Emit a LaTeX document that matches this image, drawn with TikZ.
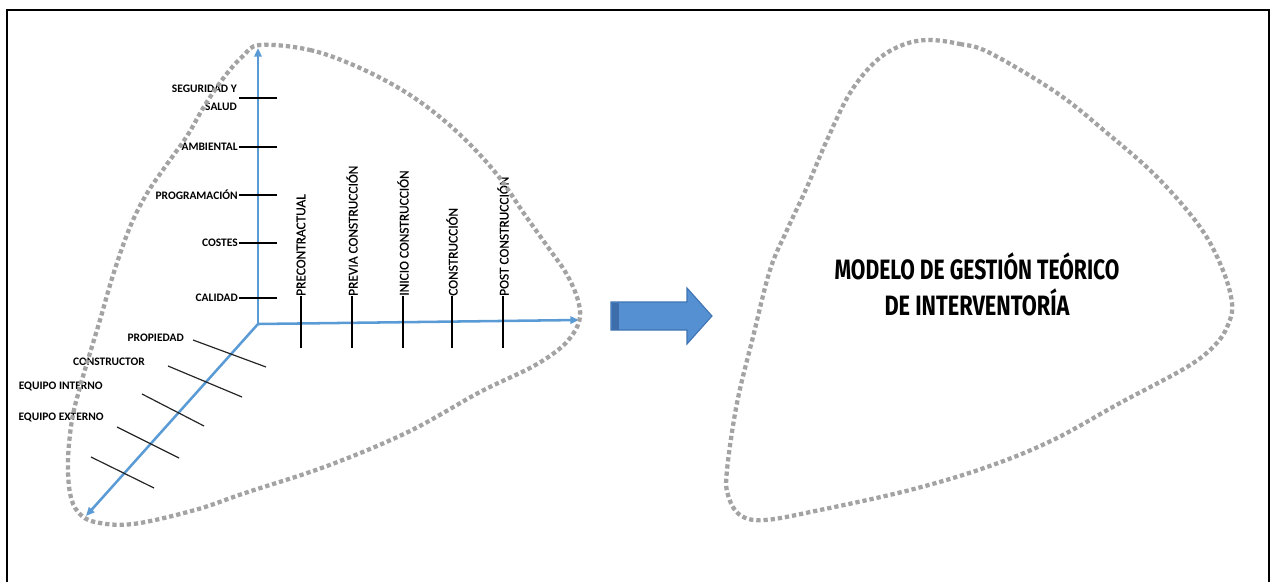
\documentclass[tikz,border=0pt]{standalone}
\usepackage{fontspec}
\setmainfont{Carlito}
\newfontfamily\titlefont{Fira Sans}
\newfontfamily\phasefont{Carlito}[FakeBold=0.6]
\usetikzlibrary{arrows.meta}
\definecolor{axisblue}{HTML}{5B9BD5}
\definecolor{blockblue}{HTML}{5590D2}
\definecolor{blockedge}{HTML}{3F73B1}
\definecolor{blockdark}{HTML}{3D6DAA}
\definecolor{dotgray}{HTML}{A3A3A3}
\begin{document}
\begin{tikzpicture}[x=0.75pt,y=-0.75pt,
  axis/.style={draw=axisblue,line width=1.9pt,-{Triangle[length=6.5pt,width=5.5pt]}},
  vtick/.style={draw=black,line width=1.5pt},
  dtick/.style={draw=black!85,line width=0.9pt},
  dimlabel/.style={font=\bfseries\fontsize{8.6}{13.5}\selectfont,inner sep=0pt,anchor=east,align=right},
  phaselabel/.style={font=\phasefont\fontsize{10}{12}\selectfont,inner sep=0pt,anchor=west,rotate=90},
  blob/.style={draw=dotgray,line width=3.2pt,dash pattern=on 3.2pt off 2.2pt},
  titletext/.style={font=\titlefont\bfseries\fontsize{21}{25}\selectfont,inner sep=0pt}]
\useasboundingbox (0,0) rectangle (1272,582);
\clip (0,0) rectangle (1272,582);

% outer frame
\draw[line width=2.2pt] (7,10) rectangle (1269,640);

% axes
\coordinate (origin) at (258,324);
\coordinate (ytip) at (258,48);
\coordinate (xtip) at (579,320);
\coordinate (dtip) at (86,516);
\draw[axis] (origin) -- (ytip);
\draw[axis] (origin) -- (xtip);
\draw[axis] (origin) -- (dtip);

% dimensions on the vertical axis
\foreach \name/\y in {seg/98,amb/147,prog/195,cost/243,cal/298}{
  \coordinate (\name a) at (239,\y);
  \coordinate (\name b) at (277,\y);
  \draw[vtick] (\name a) -- (\name b);
}
\node[dimlabel] (lseg) at (237,98) {SEGURIDAD Y\\SALUD};
\node[dimlabel] (lamb) at (238,147) {AMBIENTAL};
\node[dimlabel] (lprog) at (238,195) {PROGRAMACIÓN};
\node[dimlabel] (lcost) at (238,243) {COSTES};
\node[dimlabel] (lcal) at (238,298) {CALIDAD};

% phases on the horizontal axis
\foreach \name/\x/\txt in {pre/301/PRECONTRACTUAL,prev/352/PREVIA CONSTRUCCIÓN,ini/403/INICIO CONSTRUCCIÓN,con/452/CONSTRUCCIÓN,post/503/POST CONSTRUCCIÓN}{
  \node[phaselabel] (\name) at (\x,296) {\txt};
  \coordinate (\name b) at (\x,348);
  \draw[vtick] (\name.west) -- (\name b);
}

% actors on the diagonal axis
\coordinate (d1a) at (193,340); \coordinate (d1b) at (266,367);
\coordinate (d2a) at (168,366); \coordinate (d2b) at (242,397);
\coordinate (d3a) at (142,394); \coordinate (d3b) at (204,426);
\coordinate (d4a) at (117,427); \coordinate (d4b) at (179,458);
\coordinate (d5a) at (91,457);  \coordinate (d5b) at (154,488);
\foreach \i in {1,...,5}{\draw[dtick] (d\i a) -- (d\i b);}
\node[dimlabel] (lprop) at (184,338) {PROPIEDAD};
\node[dimlabel] (lcons) at (145,362) {CONSTRUCTOR};
\node[dimlabel] (lint) at (103,386) {EQUIPO INTERNO};
\node[dimlabel] (lext) at (104,417) {EQUIPO EXTERNO};

% dotted outline round the three axes
\draw[blob] plot[smooth cycle,tension=0.6] coordinates {
  (260,45) (310,50) (360,68) (410,95) (455,130) (495,172) (525,215)
  (550,250) (566,273) (577,297) (580,317) (573,334) (558,350) (530,368)
  (480,392) (408,432) (327,466) (245,493) (195,510) (133,524) (95,522)
  (78,512) (70,493) (68,460) (72,420) (80,387) (90,353) (100,320)
  (114,272) (130,227) (146,195) (165,167) (187,136) (205,105) (225,76) (243,56)};

% block arrow
\fill[blockblue,draw=blockedge,line width=0.8pt]
  (611,302) -- (687,302) -- (687,288) -- (712,316) -- (687,344) -- (687,330) -- (611,330) -- cycle;
\fill[blockdark] (611.5,302.5) rectangle (619,329.5);

% dotted outline of the resulting model
\draw[blob] plot[smooth cycle,tension=0.6] coordinates {
  (927,40) (960,44) (990,53) (1057,93) (1107,133) (1157,177) (1200,227)
  (1222,268) (1232,303) (1228,325) (1215,345) (1187,367) (1120,403)
  (1053,440) (987,467) (910,490) (820,510) (765,520) (740,515) (728,495)
  (727,470) (737,403) (753,337) (770,270) (787,230) (807,187) (827,140)
  (850,93) (875,62) (900,46)};

\node[titletext] (t1) at (977,266) {\resizebox{213.75pt}{\height}{MODELO DE GESTIÓN TEÓRICO}};
\node[titletext] (t2) at (977,302) {\resizebox{138.75pt}{\height}{DE INTERVENTORÍA}};
\end{tikzpicture}
\end{document}
